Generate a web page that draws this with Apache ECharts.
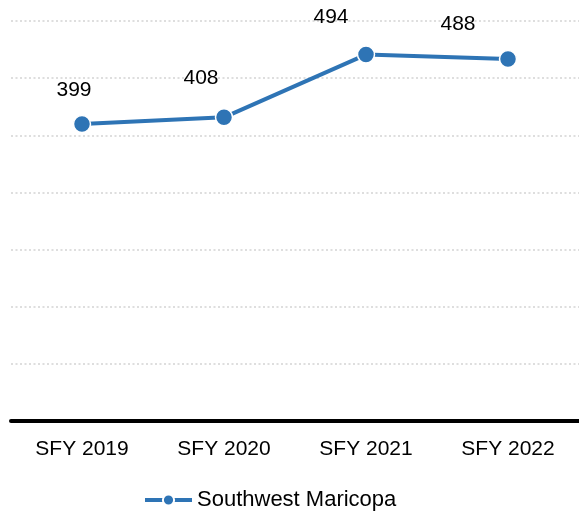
<!DOCTYPE html>
<html>
<head>
<meta charset="utf-8">
<script src="https://cdn.jsdelivr.net/npm/echarts@6/dist/echarts.min.js"></script>
<style>
  html, body { margin: 0; padding: 0; background: #fff; }
  #chart { width: 579px; height: 514px; }
</style>
</head>
<body>
<div id="chart"></div>
<script>
// Annual counts for Southwest Maricopa
const categories = ['SFY 2019', 'SFY 2020', 'SFY 2021', 'SFY 2022'];
const seriesName = 'Southwest Maricopa';
const values = [399, 408, 494, 488];

const FONT = '"Liberation Sans", Arial, sans-serif';
const BLUE = '#2E74B5';

// Label nudges, one per point (label centre relative to marker centre)
const labelNudge = [[-8, -34], [-23, -39], [-35, -37], [-50, -35]];

const chart = echarts.init(document.getElementById('chart'));
chart.setOption({
  animation: false,
  backgroundColor: '#fff',
  grid: { left: 11, right: -3, top: 21, bottom: 93, containLabel: false },
  legend: {
    left: 138,
    top: 484,
    itemWidth: 47,
    itemHeight: 14,
    itemGap: 10,
    lineStyle: { width: 4 },
    textStyle: { fontFamily: FONT, fontSize: 22, color: '#000' },
    data: [seriesName]
  },
  xAxis: {
    type: 'category',
    data: categories,
    boundaryGap: true,
    axisLine: { show: true, onZero: false, lineStyle: { color: '#000', width: 4 } },
    axisTick: { show: false },
    axisLabel: { fontFamily: FONT, fontSize: 21, color: '#000', margin: 18 },
    splitLine: { show: false }
  },
  yAxis: [
    {
      // value scale for the line
      type: 'value',
      min: -8,
      max: 540,
      show: false
    },
    {
      // evenly spaced dotted guides
      type: 'value',
      min: 0,
      max: 7,
      interval: 1,
      axisLine: { show: false },
      axisTick: { show: false },
      axisLabel: { show: false },
      splitLine: {
        show: true,
        lineStyle: { color: '#d3d3d3', width: 1.5, type: [2, 2.5] }
      }
    }
  ],
  series: [
    {
      name: seriesName,
      type: 'line',
      yAxisIndex: 0,
      data: values.map((v, i) => ({
        value: v,
        label: { offset: labelNudge[i] }
      })),
      symbol: 'circle',
      symbolSize: 17,
      lineStyle: { color: BLUE, width: 4 },
      itemStyle: { color: BLUE, borderColor: '#fff', borderWidth: 1.5 },
      label: {
        show: true,
        position: 'inside',
        fontFamily: FONT,
        fontSize: 21,
        color: '#000'
      },
      z: 3
    }
  ]
});
</script>
</body>
</html>
